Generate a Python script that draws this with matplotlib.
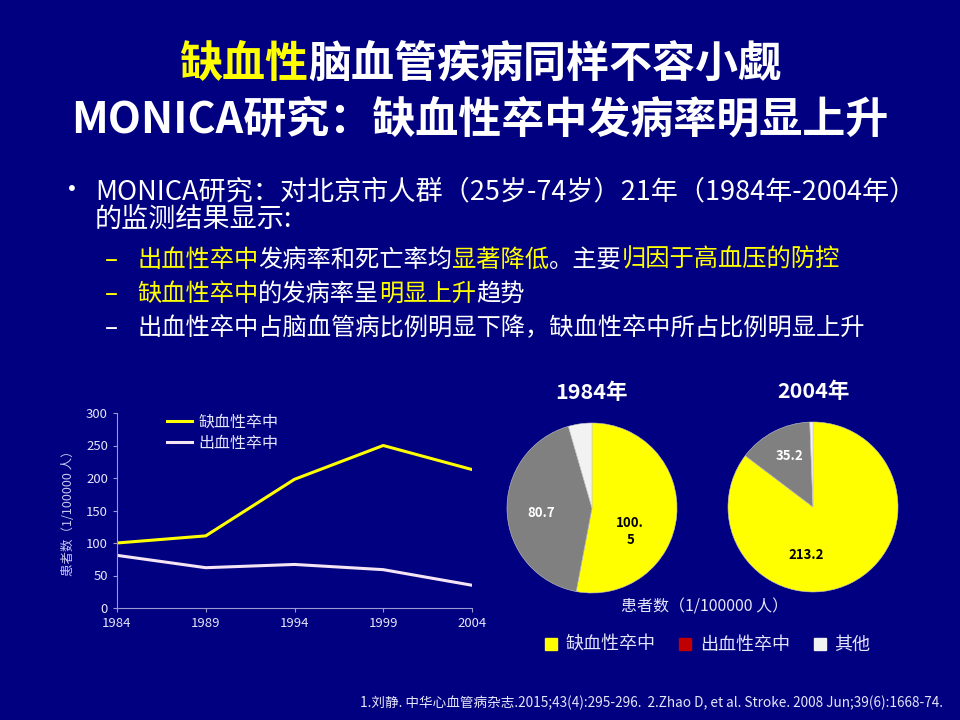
import matplotlib
matplotlib.use('Agg')
from matplotlib import pyplot as plt
from matplotlib.lines import Line2D

plt.rcParams['font.family'] = ['Noto Sans CJK SC', 'DejaVu Sans']

# colours
BG = '#000080'
YEL = '#ffff00'
WHT = '#ffffff'
SOFT = '#e6e6fa'

# line chart data
years = [1984, 1989, 1994, 1999, 2004]
ischemic = [100, 111, 198, 250, 213]
hemorrhagic = [81, 62, 67, 59, 35]

# pie data (ischemic, hemorrhagic, other)
pie_1984 = [100.5, 80.7, 8.5]
pie_2004 = [213.2, 35.2, 1.5]
pie_labels_1984 = ['100.\n5', '80.7', '']
pie_labels_2004 = ['213.2', '35.2', '']
pie_colors = ['#ffff00', '#808080', '#f2f2f2']
legend_colors = ['#ffff00', '#c00000', '#f2f2f2']
legend_names = ['缺血性卒中', '出血性卒中', '其他']

fig = plt.figure(figsize=(9.6, 7.2), dpi=100, facecolor=BG)
W, H = 960, 720
renderer = fig.canvas.get_renderer()


def draw_segments(segs, x, y, ha='left', size=17.5, weight='normal'):
    # draws coloured pieces of one line, x and y in pixels (y from top)
    texts = []
    for s, c in segs:
        t = fig.text(0, 1 - y / H, s, color=c, fontsize=size, fontweight=weight, va='baseline')
        texts.append(t)
    widths = [t.get_window_extent(renderer).width for t in texts]
    total = sum(widths)
    start = x - total / 2 if ha == 'center' else x
    for t, w in zip(texts, widths):
        t.set_x(start / W)
        start += w


# title
draw_segments([('缺血性', YEL), ('脑血管疾病同样不容小觑', WHT)], 480, 77, ha='center', size=31, weight='bold')
draw_segments([('MONICA研究：缺血性卒中发病率明显上升', WHT)], 480, 133, ha='center', size=31, weight='bold')

# bullets
fig.text(58 / W, 1 - 199 / H, '•', color=WHT, fontsize=20, va='baseline')
draw_segments([('MONICA研究：对北京市人群（25岁-74岁）21年（1984年-2004年）', WHT)], 95, 199, size=19.5)
draw_segments([('的监测结果显示:', WHT)], 95, 228, size=19.5)
for yy, c in zip([267, 301, 335], [YEL, YEL, WHT]):
    fig.text(105 / W, 1 - yy / H, '–', color=c, fontsize=17.5, va='baseline')
draw_segments([('出血性卒中', YEL), ('发病率和死亡率均', WHT), ('显著降低', YEL),
               ('。主要', WHT), ('归因于高血压的防控', YEL)], 137, 267)
draw_segments([('缺血性卒中', YEL), ('的发病率呈', WHT), ('明显上升', YEL), ('趋势', WHT)], 137, 301)
draw_segments([('出血性卒中占脑血管病比例明显下降，缺血性卒中所占比例明显上升', WHT)], 137, 335)

# line chart
ax = fig.add_axes([117 / W, 1 - 608 / H, 355 / W, 195 / H])
ax.set_facecolor(BG)
ax.plot(years, ischemic, color='#ffff00', linewidth=2.2, label='缺血性卒中')
ax.plot(years, hemorrhagic, color='#f4e4f4', linewidth=2.2, label='出血性卒中')
ax.set_xlim(1984, 2004)
ax.set_ylim(0, 300)
ax.set_xticks(years)
ax.set_yticks(range(0, 301, 50))
for sp in ['top', 'right']:
    ax.spines[sp].set_visible(False)
for sp in ['left', 'bottom']:
    ax.spines[sp].set_color('#9a9ad0')
    ax.spines[sp].set_linewidth(0.8)
ax.tick_params(colors='#9a9ad0', labelcolor=SOFT, labelsize=9.5, length=3, width=0.8)
ax.set_ylabel('患者数（1/100000 人）', color='#c8c8f0', fontsize=9, labelpad=8)
leg = ax.legend(loc='upper left', bbox_to_anchor=(0.1, 1.07), frameon=False,
                fontsize=11.5, handlelength=1.6, labelspacing=0.25, handletextpad=0.4)
for t in leg.get_texts():
    t.set_color(SOFT)

# pies
def draw_pie(cx, cy, values, title):
    r = 85
    pax = fig.add_axes([(cx - r) / W, 1 - (cy + r) / H, 2 * r / W, 2 * r / H])
    pax.pie(values, colors=pie_colors, startangle=90, counterclock=False,
            wedgeprops=dict(linewidth=0.4, edgecolor='#c8c8c8'))
    pax.set_xlim(-1, 1)
    pax.set_ylim(-1, 1)
    pax.set_title(title, color=WHT, fontsize=15.5, fontweight='bold', pad=17)
    return pax

p1 = draw_pie(592, 508, pie_1984, '1984年')
p1.text(0.45, -0.28, pie_labels_1984[0], color='black', fontsize=9.5, fontweight='bold', ha='center', va='center', linespacing=1.3)
p1.text(-0.6, -0.06, pie_labels_1984[1], color=WHT, fontsize=9.5, fontweight='bold', ha='center', va='center')
p2 = draw_pie(813, 507, pie_2004, '2004年')
p2.text(-0.08, -0.57, pie_labels_2004[0], color='black', fontsize=9.5, fontweight='bold', ha='center', va='center')
p2.text(-0.28, 0.6, pie_labels_2004[1], color=WHT, fontsize=9.5, fontweight='bold', ha='center', va='center')

fig.text(705 / W, 1 - 607 / H, '患者数（1/100000 人）', color=SOFT, fontsize=11.5, ha='center', va='center')

handles = [Line2D([], [], linestyle='none', marker='s', markersize=8, markerfacecolor=c,
                  markeredgecolor=c) for c in legend_colors]
fleg = fig.legend(handles, legend_names, loc='center', bbox_to_anchor=(707 / W, 1 - 645 / H), ncol=3,
                  frameon=False, fontsize=13, handlelength=0.8, handletextpad=0.4, columnspacing=1.25)
for t in fleg.get_texts():
    t.set_color(SOFT)

fig.text(943 / W, 1 - 703 / H,
         '1.刘静. 中华心血管病杂志.2015;43(4):295-296.  2.Zhao D, et al. Stroke. 2008 Jun;39(6):1668-74.',
         color=SOFT, fontsize=9.8, ha='right', va='center')

fig.savefig('out.png', dpi=100, facecolor=BG)
